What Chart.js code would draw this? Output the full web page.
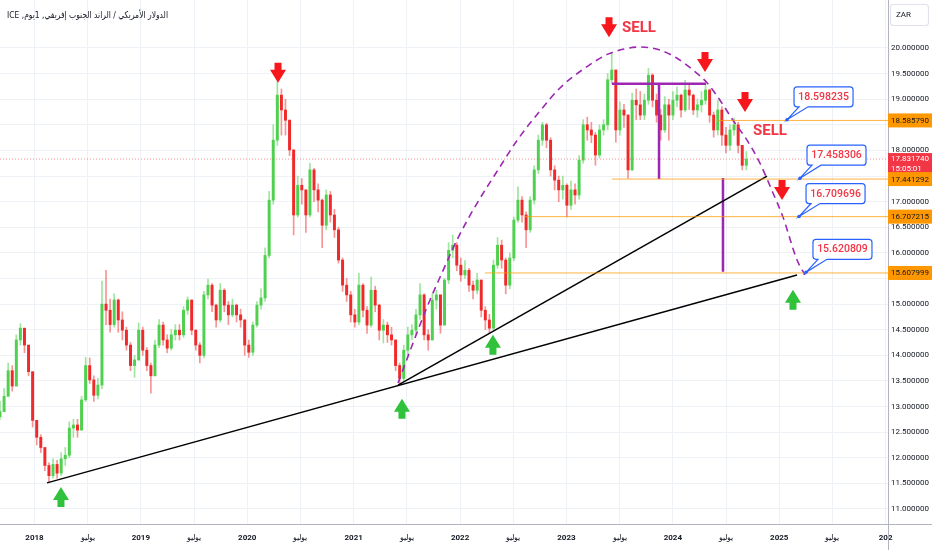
<!DOCTYPE html>
<html>
<head>
<meta charset="utf-8">
<script src="https://cdn.jsdelivr.net/npm/chart.js@4.4.1/dist/chart.umd.min.js"></script>
<style>
  html, body { margin: 0; padding: 0; background: #fff; overflow: hidden; }
  #wrap { width: 932px; height: 550px; }
</style>
</head>
<body>
<div id="wrap"><canvas id="chart" width="932" height="550"></canvas></div>
<script>
// USD/ZAR, two-week candles
const firstBar = 2017.676;   // decimal year of the first candle
const barDays = 14;
const firstOpen = 12.80;

const closes = [
  12.90, 13.20, 13.70, 13.40, 14.30, 14.53, 14.20, 13.68, 12.73, 12.40,
  12.20, 11.85, 11.65, 11.87, 11.70, 11.98, 12.05, 12.58, 12.64, 12.54,
  13.13, 13.80, 13.52, 13.22, 13.42, 15.00, 14.88, 14.60, 15.08, 14.69,
  14.49, 14.20, 13.80, 13.91, 14.49, 14.10, 13.80, 13.60, 14.20, 14.59,
  14.30, 14.14, 14.40, 14.49, 14.40, 14.88, 15.08, 14.49, 14.20, 14.00,
  15.18, 15.37, 14.98, 14.69, 15.27, 14.98, 14.79, 14.98, 14.79, 14.69,
  14.20, 14.06, 14.59, 14.98, 15.12, 15.95, 17.03, 18.20, 19.08, 18.79,
  18.59, 18.01, 16.74, 17.32, 17.23, 16.74, 17.62, 17.23, 17.03, 16.54,
  17.13, 16.74, 16.45, 15.86, 15.37, 15.18, 14.79, 14.65, 15.37, 14.88,
  14.59, 15.27, 14.98, 14.49, 14.59, 14.40, 14.30, 13.80, 13.55, 14.10,
  14.40, 14.49, 14.79, 15.18, 14.40, 14.30, 15.08, 15.18, 14.59, 15.47,
  16.05, 16.15, 15.76, 15.57, 15.66, 15.37, 15.27, 15.47, 14.88, 14.69,
  14.53, 15.76, 16.15, 15.86, 15.37, 15.90, 16.64, 17.03, 16.74, 16.45,
  17.03, 17.62, 18.20, 18.50, 18.20, 17.62, 17.42, 17.23, 17.32, 16.93,
  17.23, 17.13, 17.81, 18.50, 18.40, 18.30, 17.91, 18.40, 18.50, 19.38,
  19.57, 18.40, 18.79, 18.69, 17.62, 18.98, 18.89, 18.69, 18.98, 19.47,
  18.98, 18.69, 18.40, 18.89, 18.69, 18.98, 19.08, 18.79, 19.18, 19.08,
  18.79, 18.89, 18.98, 19.18, 18.69, 18.40, 18.79, 18.30, 18.10, 18.40,
  18.50, 18.10, 17.71, 17.83
];
const highs = [
  13.10, 13.35, 13.85, 13.80, 14.40, 14.62, 14.50, 14.10, 13.40, 12.60,
  12.45, 12.20, 11.90, 11.98, 11.95, 12.10, 12.20, 12.70, 12.75, 12.75,
  13.20, 13.96, 13.95, 13.60, 13.55, 15.45, 15.66, 15.10, 15.20, 15.10,
  14.85, 14.55, 14.25, 14.00, 14.63, 14.55, 14.15, 13.85, 14.30, 14.70,
  14.65, 14.40, 14.50, 14.60, 14.60, 14.95, 15.14, 15.00, 14.50, 14.25,
  15.25, 15.49, 15.40, 15.00, 15.40, 15.30, 15.05, 15.10, 15.00, 14.90,
  14.70, 14.30, 14.65, 15.05, 15.30, 16.10, 17.20, 18.50, 19.35, 19.20,
  19.00, 18.60, 17.50, 17.50, 17.45, 17.20, 17.75, 17.65, 17.35, 17.05,
  17.23, 17.20, 16.85, 16.50, 15.90, 15.50, 15.25, 14.90, 15.60, 15.40,
  14.95, 15.53, 15.35, 15.00, 14.70, 14.65, 14.55, 14.30, 13.85, 14.20,
  14.55, 14.60, 14.90, 15.40, 15.20, 14.50, 15.20, 15.27, 15.10, 15.50,
  16.20, 16.35, 16.20, 15.90, 15.85, 15.70, 15.45, 15.60, 15.45, 14.95,
  14.80, 15.86, 16.30, 16.25, 15.90, 16.00, 16.70, 17.29, 17.10, 16.80,
  17.10, 17.70, 18.30, 18.55, 18.53, 18.25, 17.70, 17.50, 17.50, 17.35,
  17.40, 17.35, 17.90, 18.60, 18.65, 18.55, 18.35, 18.50, 18.60, 19.50,
  19.90, 19.50, 18.95, 18.90, 18.70, 19.12, 19.20, 19.15, 19.10, 19.60,
  19.50, 19.10, 18.80, 19.05, 19.00, 19.15, 19.24, 19.10, 19.37, 19.30,
  19.10, 19.00, 19.15, 19.30, 19.20, 18.75, 18.98, 18.85, 18.45, 18.50,
  18.63, 18.55, 18.10, 17.98
];
const lows = [
  12.75, 13.00, 13.45, 13.30, 13.90, 14.20, 14.05, 13.60, 12.60, 12.25,
  12.10, 11.75, 11.53, 11.60, 11.60, 11.65, 11.85, 12.00, 12.40, 12.40,
  12.55, 13.10, 13.45, 13.10, 13.15, 13.35, 14.60, 14.45, 14.55, 14.45,
  14.30, 14.10, 13.70, 13.57, 13.90, 14.00, 13.70, 13.26, 13.60, 14.15,
  14.20, 14.05, 14.10, 14.30, 14.30, 14.35, 14.80, 14.40, 14.10, 13.85,
  13.95, 15.10, 14.85, 14.55, 14.65, 14.85, 14.60, 14.75, 14.65, 14.55,
  14.00, 13.96, 14.00, 14.55, 14.90, 15.05, 15.90, 16.95, 18.10, 18.30,
  18.30, 17.90, 16.35, 16.70, 16.95, 16.40, 16.70, 17.00, 16.80, 16.10,
  16.45, 16.60, 16.30, 15.80, 15.25, 15.05, 14.65, 14.55, 14.60, 14.75,
  14.43, 14.55, 14.85, 14.30, 14.24, 14.25, 14.20, 13.70, 13.42, 13.50,
  14.00, 14.30, 14.40, 14.70, 14.30, 14.10, 14.30, 14.90, 14.43, 14.60,
  15.40, 15.90, 15.65, 15.45, 15.50, 15.25, 15.10, 15.20, 14.75, 14.50,
  14.43, 14.50, 15.70, 15.70, 15.20, 15.30, 15.85, 16.60, 16.60, 16.10,
  16.40, 16.95, 17.55, 18.10, 18.05, 17.50, 17.23, 17.00, 17.05, 16.70,
  16.85, 16.95, 17.05, 17.75, 18.20, 18.15, 17.71, 17.85, 18.30, 18.40,
  19.30, 18.16, 18.30, 18.45, 17.46, 17.60, 18.60, 18.60, 18.60, 18.90,
  18.85, 18.55, 18.20, 18.35, 18.20, 18.60, 18.85, 18.65, 18.75, 18.80,
  18.70, 18.65, 18.75, 18.90, 18.55, 18.26, 18.30, 18.10, 17.95, 18.00,
  18.30, 17.95, 17.62, 17.62
];
const lastPrice = 17.831740;
const lastTime = '15:05:01';

// axis
const xMin = 2017.676, xMax = 2026.022;
const yMin = 10.707, yMax = 20.937;
const yearTicks = [2018, 2018.5, 2019, 2019.5, 2020, 2020.5, 2021, 2021.5, 2022, 2022.5,
                   2023, 2023.5, 2024, 2024.5, 2025, 2025.5, 2026];
const priceTicks = [11, 11.5, 12, 12.5, 13, 13.5, 14, 14.5, 15, 15.5, 16, 16.5, 17, 17.5,
                    18, 18.5, 19, 19.5, 20];

// drawings (decimal year, price)
const levelPrices = [18.585790, 17.441292, 16.707215, 15.607999];
const levelStarts = [2024.415, 2023.428, 2022.610, 2022.234];
const calloutValues = [18.598235, 17.458306, 16.709696, 15.620809];
const calloutYears = [2025.073, 2025.195, 2025.186, 2025.251];
const arcYears = [2021.417, 2021.558, 2021.689, 2021.830, 2021.980, 2022.140, 2022.375, 2022.544,
                  2022.751, 2022.939, 2023.174, 2023.390, 2023.541, 2023.691, 2023.879, 2024.039,
                  2024.189, 2024.321, 2024.443, 2024.565, 2024.697, 2024.819, 2024.941, 2025.035,
                  2025.167, 2025.242];
const arcPrices = [13.46, 14.24, 14.94, 15.61, 16.29, 16.90, 17.68, 18.22,
                   18.77, 19.22, 19.61, 19.88, 19.98, 20.02, 19.96, 19.80,
                   19.57, 19.32, 18.98, 18.59, 18.20, 17.75, 17.17, 16.70,
                   15.86, 15.57];
const trendLong = [[2018.118, 11.51], [2025.167, 15.57]];
const trendShort = [[2021.417, 13.42], [2024.885, 17.50]];
const boxTop = [[2023.428, 19.30], [2024.311, 19.30]];
const boxMid = [[2023.870, 19.30], [2023.870, 17.44]];
const targetDrop = [[2024.471, 17.46], [2024.471, 15.63]];
const sellArrows = [[2020.289, 19.32], [2023.400, 20.21], [2024.302, 19.53], [2024.678, 18.75], [2025.026, 17.03]];
const buyArrows = [[2018.249, 11.43], [2021.454, 13.15], [2022.309, 14.40], [2025.129, 15.28]];
const sellLabels = [[2023.522, 20.39], [2024.753, 18.38]];

const title = 'الدولار الأمريكي / الراند الجنوب إفريقي, 1يوم, ICE';

// candles
const times = closes.map((c, i) => firstBar + i * barDays / 365.25);
const opens = closes.map((c, i) => i === 0 ? firstOpen : closes[i - 1]);
const upColor = '#4fd04f';
const downColor = '#f02a2a';
const isUp = i => closes[i] >= opens[i];

const bodies = times.map((t, i) => ({ x: t, y: [opens[i], closes[i]] }));
const wicks = times.map((t, i) => ({
  x: t,
  y: [Math.min(lows[i], opens[i], closes[i]), Math.max(highs[i], opens[i], closes[i])]
}));

const pts = arr => arr.map(p => ({ x: p[0], y: p[1] }));
const lineSet = (data, color, width, extra) => Object.assign({
  type: 'line', data: data, borderColor: color, borderWidth: width,
  pointRadius: 0, fill: false, tension: 0, order: 1
}, extra || {});

const datasets = [
  { type: 'bar', data: wicks, barThickness: 1, grouped: false, order: 10,
    backgroundColor: c => isUp(c.dataIndex) ? 'rgba(79,208,79,0.55)' : 'rgba(240,42,42,0.5)' },
  { type: 'bar', data: bodies, barThickness: 2.3, grouped: false, order: 9, minBarLength: 1,
    backgroundColor: c => isUp(c.dataIndex) ? upColor : downColor },
  lineSet([{ x: xMin, y: lastPrice }, { x: xMax, y: lastPrice }], 'rgba(242,54,69,0.55)', 1, { borderDash: [1, 2], order: 8 })
];
levelPrices.forEach((p, i) => {
  datasets.push(lineSet([{ x: levelStarts[i], y: p }, { x: xMax, y: p }], 'rgba(255,152,0,0.75)', 1));
});
datasets.push(lineSet(pts(trendLong), '#000000', 1.5));
datasets.push(lineSet(pts(trendShort), '#000000', 1.5));
datasets.push(lineSet(pts(boxTop), '#9c27b0', 2.5));
datasets.push(lineSet(pts(boxMid), '#9c27b0', 2.5));
datasets.push(lineSet(pts(targetDrop), '#9c27b0', 2.5));
datasets.push(lineSet(arcYears.map((t, i) => ({ x: t, y: arcPrices[i] })), '#9c27b0', 1.6,
  { borderDash: [7, 5], cubicInterpolationMode: 'monotone' }));

function arrowMark(ctx, x, y, dir, color) {
  // tip at (x, y); dir 1 points down, -1 points up
  const hw = 8, hh = 13, sw = 3.5, sh = 7;
  ctx.fillStyle = color;
  ctx.beginPath();
  ctx.moveTo(x, y);
  ctx.lineTo(x - hw, y - dir * hh);
  ctx.lineTo(x - sw, y - dir * hh);
  ctx.lineTo(x - sw, y - dir * (hh + sh));
  ctx.lineTo(x + sw, y - dir * (hh + sh));
  ctx.lineTo(x + sw, y - dir * hh);
  ctx.lineTo(x + hw, y - dir * hh);
  ctx.closePath();
  ctx.fill();
}

function callout(ctx, tx, ty, text) {
  const bx = tx + 7, by = ty - 33, w = 59, h = 20, r = 3;
  ctx.beginPath();
  ctx.moveTo(bx + r, by);
  ctx.lineTo(bx + w - r, by); ctx.arcTo(bx + w, by, bx + w, by + r, r);
  ctx.lineTo(bx + w, by + h - r); ctx.arcTo(bx + w, by + h, bx + w - r, by + h, r);
  ctx.lineTo(bx + 14, by + h);
  ctx.lineTo(tx, ty);
  ctx.lineTo(bx + 5, by + h);
  ctx.lineTo(bx + r, by + h); ctx.arcTo(bx, by + h, bx, by + h - r, r);
  ctx.lineTo(bx, by + r); ctx.arcTo(bx, by, bx + r, by, r);
  ctx.closePath();
  ctx.fillStyle = '#ffffff';
  ctx.fill();
  ctx.strokeStyle = '#2962ff';
  ctx.lineWidth = 1.2;
  ctx.stroke();
  ctx.fillStyle = '#2962ff';
  ctx.beginPath(); ctx.arc(tx, ty, 1.8, 0, Math.PI * 2); ctx.fill();
  ctx.fillStyle = '#f23645';
  ctx.font = '500 10.5px Roboto';
  ctx.textAlign = 'center';
  ctx.textBaseline = 'middle';
  ctx.fillText(text, bx + w / 2, by + h / 2 + 0.5);
}

const overlay = {
  id: 'overlay',
  afterDraw(chart) {
    const ctx = chart.ctx, xs = chart.scales.x, ys = chart.scales.y;
    const area = chart.chartArea;
    const X = v => xs.getPixelForValue(v), Y = v => ys.getPixelForValue(v);
    ctx.save();

    // pane borders
    ctx.strokeStyle = '#b2b5be';
    ctx.lineWidth = 1;
    ctx.beginPath();
    ctx.moveTo(area.right + 0.5, 0); ctx.lineTo(area.right + 0.5, 550);
    ctx.moveTo(0, area.bottom + 0.5); ctx.lineTo(932, area.bottom + 0.5);
    ctx.stroke();

    // arrows and labels
    sellArrows.forEach(a => arrowMark(ctx, X(a[0]), Y(a[1]), 1, '#f7161b'));
    buyArrows.forEach(a => arrowMark(ctx, X(a[0]), Y(a[1]), -1, '#2fc23a'));
    ctx.fillStyle = '#f23645';
    ctx.font = 'bold 15px Roboto';
    ctx.textAlign = 'left';
    ctx.textBaseline = 'middle';
    sellLabels.forEach(s => ctx.fillText('SELL', X(s[0]), Y(s[1])));

    calloutValues.forEach((v, i) => callout(ctx, X(calloutYears[i]), Y(v), v.toFixed(6)));

    // title
    ctx.fillStyle = '#131722';
    ctx.font = '9.5px "DejaVu Sans"';
    ctx.direction = 'rtl';
    ctx.textAlign = 'left';
    ctx.textBaseline = 'middle';
    ctx.fillText(title, 7, 16, 161);
    ctx.direction = 'ltr';

    // price scale labels
    const px = area.right;
    ctx.font = '8px Roboto';
    ctx.textAlign = 'left';
    ctx.textBaseline = 'middle';
    ctx.fillStyle = '#131722';
    priceTicks.forEach(v => ctx.fillText(v.toFixed(6), px + 3, Y(v)));
    const ly = Y(lastPrice);
    ctx.fillStyle = '#f23645';
    ctx.fillRect(px, ly - 6, 932 - px, 22);
    ctx.fillStyle = '#ffffff';
    ctx.fillText(lastPrice.toFixed(6), px + 3, ly);
    ctx.fillText(lastTime, px + 3, ly + 10);
    levelPrices.forEach(p => {
      const y = Y(p);
      ctx.fillStyle = '#ff9800';
      ctx.fillRect(px, y - 7, 932 - px, 14);
      ctx.fillStyle = '#131722';
      ctx.fillText(p.toFixed(6), px + 3, y + 0.5);
    });

    // currency button
    ctx.fillStyle = '#ffffff';
    ctx.strokeStyle = '#e0e3eb';
    ctx.beginPath();
    ctx.roundRect(890.5, 4.5, 38, 21, 3);
    ctx.fill(); ctx.stroke();
    ctx.fillStyle = '#131722';
    ctx.font = '8px Roboto';
    ctx.fillText('ZAR', 896, 15);

    ctx.restore();
  }
};

new Chart(document.getElementById('chart'), {
  type: 'line',
  data: { datasets: datasets },
  options: {
    responsive: false,
    animation: false,
    devicePixelRatio: 1,
    layout: { padding: 0 },
    plugins: { legend: { display: false }, tooltip: { enabled: false } },
    scales: {
      x: {
        type: 'linear', min: xMin, max: xMax, offset: false,
        grid: { color: '#eef1f6', drawTicks: false, offset: false },
        border: { display: false },
        afterBuildTicks: s => { s.ticks = yearTicks.map(v => ({ value: v })); },
        afterFit: s => { s.height = 26; },
        ticks: {
          autoSkip: false, maxRotation: 0, padding: 9, color: '#131722',
          font: c => ({ family: 'Roboto', size: 8, weight: (c.tick && c.tick.value % 1 === 0) ? 'bold' : 'normal' }),
          callback: v => v % 1 !== 0 ? 'يوليو' : (v === 2026 ? '202' : String(v))
        }
      },
      y: {
        type: 'linear', position: 'right', min: yMin, max: yMax,
        grid: { color: '#eef1f6', drawTicks: false },
        border: { display: false },
        afterBuildTicks: s => { s.ticks = priceTicks.map(v => ({ value: v })); },
        afterFit: s => { s.width = 44; },
        ticks: { display: false }
      }
    }
  },
  plugins: [overlay]
});
</script>
</body>
</html>
